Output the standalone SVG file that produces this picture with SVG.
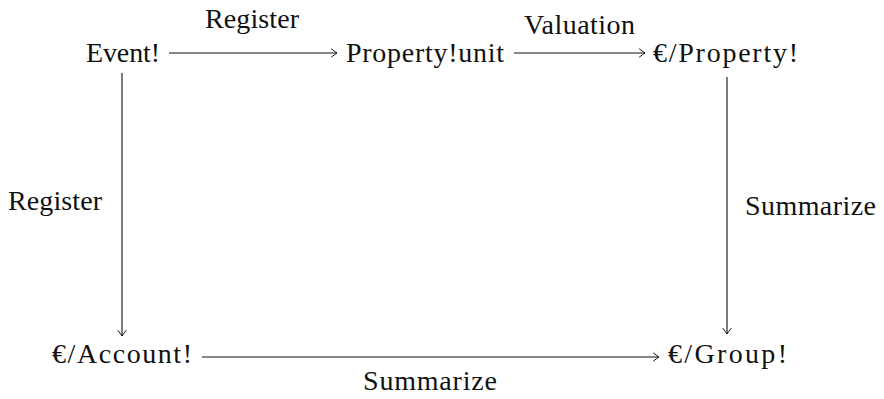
<svg xmlns="http://www.w3.org/2000/svg" width="884" height="399" viewBox="0 0 884 399">
  <style>
    text { font-family: "Liberation Serif", "DejaVu Serif", serif; font-size: 28px; fill: #111; }
    .edge { stroke: #111; stroke-width: 1.1; fill: none; marker-end: url(#to); }
  </style>
  <defs>
    <!-- open "to"-style arrow tip -->
    <marker id="to" viewBox="-7 -5 9 10" refX="0" refY="0" markerWidth="9" markerHeight="10" markerUnits="userSpaceOnUse" orient="auto">
      <path d="M -5.5,-4 Q -1.5,-0.8 0,0 Q -1.5,0.8 -5.5,4" stroke="#111" stroke-width="1" fill="none" stroke-linecap="round"/>
    </marker>
  </defs>

  <rect width="884" height="399" fill="#fff"/>

  <g id="connectors">
    <path class="edge" d="M 169,53 H 337"/>
    <path class="edge" d="M 514,53 H 645"/>
    <path class="edge" d="M 122,73 V 336"/>
    <path class="edge" d="M 727,77 V 334"/>
    <path class="edge" d="M 202,357 H 659"/>
    <text x="205" y="28" textLength="94">Register</text>
    <text x="524" y="34" textLength="111">Valuation</text>
    <text x="8" y="210" textLength="94">Register</text>
    <text x="745" y="215" textLength="131">Summarize</text>
    <text x="363" y="390" textLength="134">Summarize</text>
  </g>

  <g id="event"><text x="86" y="62" textLength="74">Event!</text></g>
  <g id="property-unit"><text x="346" y="62" textLength="158">Property!unit</text></g>
  <g id="euro-property"><text x="653" y="62" textLength="145">€/Property!</text></g>
  <g id="euro-account"><text x="52" y="363" textLength="140">€/Account!</text></g>
  <g id="euro-group"><text x="668" y="363" textLength="119">€/Group!</text></g>
</svg>
